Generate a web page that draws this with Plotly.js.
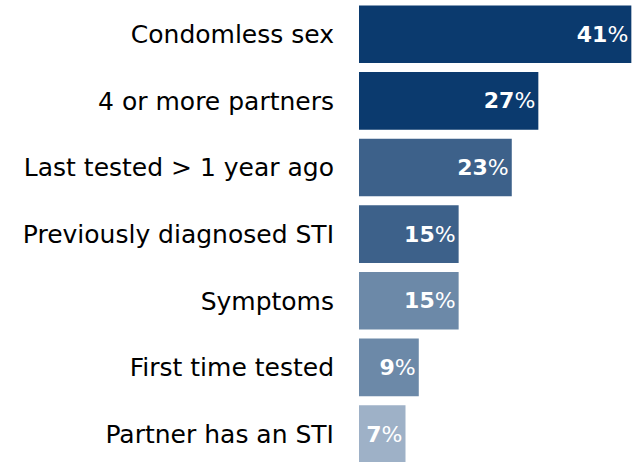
<!DOCTYPE html>
<html>
<head>
<meta charset="utf-8">
<script src="https://cdn.plot.ly/plotly-3.0.1.min.js"></script>
<style>html,body{margin:0;padding:0;background:#fff;}#chart{width:641px;height:462px;}</style>
</head>
<body>
<div id="chart"></div>
<script>
var categories = ["Condomless sex", "4 or more partners", "Last tested > 1 year ago", "Previously diagnosed STI", "Symptoms", "First time tested", "Partner has an STI"];
var values = [41, 27, 23, 15, 15, 9, 7];
var barColors = ["#0b3a6e", "#0b3a6e", "#3d618a", "#3d618a", "#6c89a8", "#6c89a8", "#9eb1c7"];

var trace = {
  type: "bar",
  orientation: "h",
  y: categories,
  x: values,
  marker: {color: barColors},
  text: values.map(function(v){ return "<b>" + v + "</b>%"; }),
  textposition: "inside",
  insidetextanchor: "end",
  textfont: {family: "DejaVu Sans", size: 22, color: "#ffffff"},
  hoverinfo: "none",
  cliponaxis: true
};

var layout = {
  width: 641,
  height: 462,
  margin: {l: 359, r: 9, t: 1, b: 0, pad: 0},
  paper_bgcolor: "#ffffff",
  plot_bgcolor: "#ffffff",
  showlegend: false,
  bargap: 0.135,
  xaxis: {range: [0, 41.1], showgrid: false, zeroline: false, showticklabels: false, showline: false, fixedrange: true},
  yaxis: {
    type: "category",
    range: [6.42, -0.5],
    showgrid: false, zeroline: false, showline: false, ticks: "",
    ticklabelstandoff: 24,
    tickfont: {family: "DejaVu Sans", size: 25, color: "#000000"},
    fixedrange: true
  }
};

Plotly.newPlot("chart", [trace], layout, {displayModeBar: false, staticPlot: true});
</script>
</body>
</html>
